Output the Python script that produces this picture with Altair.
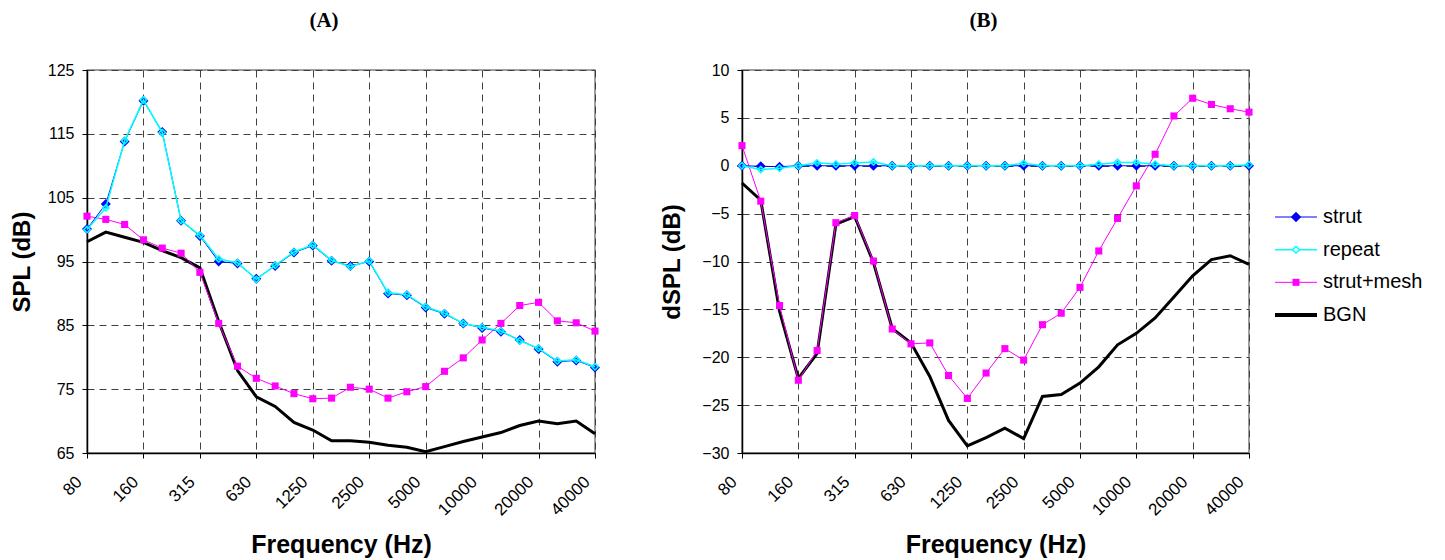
import altair as alt
import pandas as pd

freqs = ["80", "100", "125", "160", "200", "250", "315", "400", "500", "630",
         "800", "1000", "1250", "1600", "2000", "2500", "3150", "4000", "5000",
         "6300", "8000", "10000", "12500", "16000", "20000", "25000", "31500", "40000"]
tick_labels = ["80", "160", "315", "630", "1250", "2500", "5000", "10000", "20000", "40000"]
series_names = ["strut", "repeat", "strut+mesh", "BGN"]
series_colors = ["#0000FF", "#00FFFF", "#FF00FF", "#000000"]

spl_ticks = [65, 75, 85, 95, 105, 115, 125]
dspl_ticks = [-30, -25, -20, -15, -10, -5, 0, 5, 10]

# Panel (A): SPL (dB)
strut_a = [100.1, 104.0, 113.8, 120.2, 115.3, 101.4, 99.0, 95.0, 94.7, 92.3,
           94.3, 96.4, 97.5, 95.1, 94.3, 95.0, 90.0, 89.7, 87.8, 86.8,
           85.3, 84.6, 84.0, 82.7, 81.3, 79.3, 79.5, 78.4]
repeat_a = [100.0, 103.4, 113.9, 120.3, 115.2, 101.4, 99.1, 95.4, 94.8, 92.2,
            94.4, 96.5, 97.6, 95.2, 94.2, 95.1, 90.1, 89.8, 87.9, 86.9,
            85.3, 84.7, 84.1, 82.6, 81.4, 79.4, 79.6, 78.5]
mesh_a = [102.1, 101.6, 100.8, 98.4, 97.1, 96.3, 93.3, 85.3, 78.6, 76.7,
          75.5, 74.3, 73.5, 73.6, 75.3, 75.0, 73.6, 74.6, 75.4, 77.8,
          79.9, 82.7, 85.3, 88.1, 88.6, 85.7, 85.4, 84.1]
bgn_a = [98.1, 99.6, 98.8, 98.0, 96.7, 95.6, 94.0, 85.6, 77.9, 73.8,
         72.3, 69.8, 68.6, 66.9, 66.9, 66.7, 66.2, 65.9, 65.2, 66.0,
         66.8, 67.5, 68.2, 69.3, 70.0, 69.6, 70.0, 68.0]

# Panel (B): dSPL (dB)
strut_b = [0.0, -0.05, -0.1, 0.0, 0.0, 0.0, 0.0, 0.0, 0.0, 0.0,
           0.0, 0.0, 0.0, 0.0, 0.0, 0.0, 0.0, 0.0, 0.0, 0.0,
           0.0, 0.0, 0.0, 0.0, 0.0, 0.0, 0.0, 0.0]
repeat_b = [0.0, -0.4, -0.25, 0.0, 0.3, 0.15, 0.3, 0.4, 0.0, 0.0,
            0.0, 0.0, 0.0, 0.0, 0.0, 0.25, 0.0, 0.0, 0.0, 0.15,
            0.35, 0.35, 0.15, 0.0, 0.0, 0.0, 0.0, 0.1]
mesh_b = [2.1, -3.7, -14.6, -22.4, -19.3, -5.95, -5.2, -9.95, -17.05, -18.6,
          -18.5, -21.9, -24.3, -21.65, -19.1, -20.3, -16.6, -15.4, -12.7, -8.9,
          -5.5, -2.1, 1.2, 5.2, 7.05, 6.4, 5.95, 5.6]
bgn_b = [-1.8, -3.6, -15.2, -22.2, -19.6, -6.1, -5.3, -10.1, -17.0, -18.5,
         -22.0, -26.6, -29.25, -28.4, -27.4, -28.5, -24.1, -23.9, -22.7, -21.0,
         -18.7, -17.5, -15.9, -13.7, -11.5, -9.8, -9.4, -10.3]

FONT = "Liberation Sans"
SERIF = "Liberation Serif"
PW_A, PW_B, PH = 508, 507, 383


def long_df(strut, repeat, mesh, bgn):
    rows = []
    for name, vals in zip(series_names, [strut, repeat, mesh, bgn]):
        for f, v in zip(freqs, vals):
            rows.append({"freq": f, "series": name, "value": v})
    return pd.DataFrame(rows)


def panel(df, ydomain, yticks, ytitle, title, title_dx, ytitle_x, width):
    x = alt.X("freq:O", sort=freqs,
              scale=alt.Scale(type="point", padding=0),
              axis=alt.Axis(values=tick_labels, title="Frequency (Hz)",
                            labelAngle=-45, labelAlign="right", labelBaseline="middle",
                            labelPadding=21, labelOffset=-8, labelFontSize=17,
                            titleY=99, titleBaseline="alphabetic", titleFontSize=25))
    y = alt.Y("value:Q", scale=alt.Scale(domain=ydomain, nice=False, zero=False),
              axis=alt.Axis(values=yticks, title=ytitle, titleX=ytitle_x,
                            titleY=PH / 2, titleBaseline="alphabetic"))
    base = alt.Chart(df).encode(x=x, y=y)

    def sel(name):
        return base.transform_filter(alt.datum.series == name)

    bgn = sel("BGN").mark_line(color="#000000", strokeWidth=3)
    mesh_l = sel("strut+mesh").mark_line(color="#FF00FF", strokeWidth=1)
    mesh_p = sel("strut+mesh").mark_point(shape="square", filled=True, color="#FF00FF",
                                          size=50, opacity=1)
    strut_l = sel("strut").mark_line(color="#0000FF", strokeWidth=1)
    strut_p = sel("strut").mark_point(shape="diamond", filled=True, color="#0000FF",
                                      size=100, opacity=1)
    rep_l = sel("repeat").mark_line(color="#00FFFF", strokeWidth=1.5)
    rep_p = sel("repeat").mark_point(shape="diamond", filled=False, stroke="#00FFFF",
                                     strokeWidth=1.5, size=40, opacity=1)
    return alt.layer(bgn, mesh_l, mesh_p, strut_l, strut_p, rep_l, rep_p).properties(
        width=width, height=PH,
        title=alt.TitleParams(text=title, font=SERIF, fontSize=21, fontWeight="bold",
                              color="black", frame="group", anchor="middle",
                              dx=title_dx, offset=14, baseline="alphabetic"),
        view=alt.ViewBackground(stroke="#808080", strokeWidth=1.5),
    )


chart_a = panel(long_df(strut_a, repeat_a, mesh_a, bgn_a), [65, 125], spl_ticks,
                "SPL (dB)", "(A)", -17, -58, PW_A)
chart_b = panel(long_df(strut_b, repeat_b, mesh_b, bgn_b), [-30, 10], dspl_ticks,
                "dSPL (dB)", "(B)", -12, -63, PW_B)

# Legend panel
legend_df = pd.DataFrame({"series": series_names, "row": [0, 1, 2, 3]})
ly = alt.Y("row:Q", scale=alt.Scale(domain=[0, 3], range=[147, 245]), axis=None)
lbase = alt.Chart(legend_df).encode(y=ly)


def lsel(name):
    return lbase.transform_filter(alt.datum.series == name)


leg_layers = []
for name, col, sw in zip(series_names, series_colors, [1, 1.5, 1, 4]):
    leg_layers.append(lsel(name).mark_rule(color=col, strokeWidth=sw).encode(
        x=alt.value(14), x2=alt.value(56)))
leg_layers.append(lsel("strut").mark_point(shape="diamond", filled=True, color="#0000FF",
                                           size=110, opacity=1).encode(x=alt.value(35)))
leg_layers.append(lsel("repeat").mark_point(shape="diamond", filled=True, fill="white",
                                            stroke="#00FFFF", strokeWidth=1.5, size=45,
                                            opacity=1).encode(x=alt.value(35)))
leg_layers.append(lsel("strut+mesh").mark_point(shape="square", filled=True, color="#FF00FF",
                                                size=50, opacity=1).encode(x=alt.value(35)))
leg_layers.append(lbase.mark_text(align="left", baseline="middle", font=FONT, fontSize=20,
                                  color="black").encode(x=alt.value(62), text="series:N"))
legend = alt.layer(*leg_layers).properties(
    width=170, height=PH, view=alt.ViewBackground(strokeOpacity=0))

right = alt.hconcat(chart_b, legend, spacing=12, bounds="flush")
chart = alt.hconcat(chart_a, right, spacing=147, bounds="flush").properties(
    padding={"left": 1, "top": 1, "right": 0, "bottom": 0}
).configure_axis(
    labelFont=FONT, labelFontSize=16, labelColor="black",
    titleFont=FONT, titleFontSize=24, titleFontWeight="bold", titleColor="black",
    domainColor="black", domainWidth=1.5, tickColor="black", tickSize=5, tickWidth=1,
    labelPadding=8, grid=True, gridColor="#404040", gridDash=[7, 5], gridWidth=1,
)

chart.save("out.html", embed_options={"renderer": "svg", "actions": False})
